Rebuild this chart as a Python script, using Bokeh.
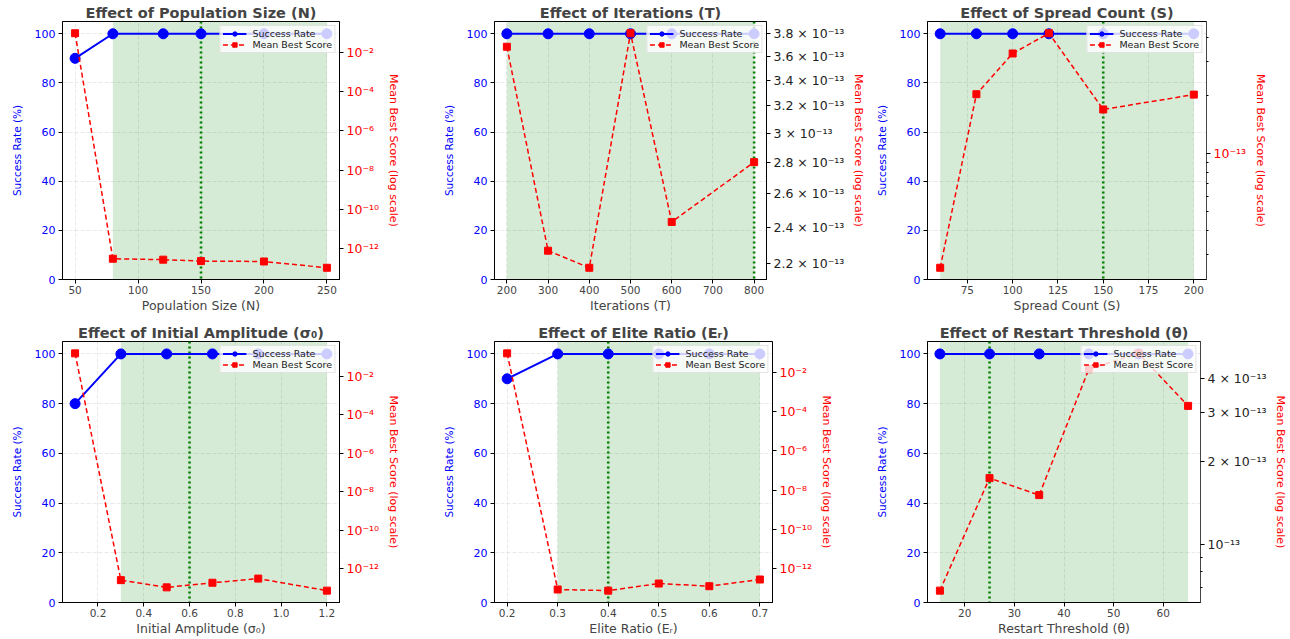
import numpy as np
from bokeh.plotting import figure
from bokeh.layouts import column, row
from bokeh.models import Range1d, LogScale, LogAxis, FixedTicker, BoxAnnotation, Span
from bokeh.embed import file_html
from bokeh.resources import INLINE

# ---------------- data ----------------
titles = ["Effect of Population Size (N)", "Effect of Iterations (T)",
          "Effect of Spread Count (S)", "Effect of Initial Amplitude (σ₀)",
          "Effect of Elite Ratio (Eᵣ)", "Effect of Restart Threshold (θ)"]
xlabels = ["Population Size (N)", "Iterations (T)", "Spread Count (S)",
           "Initial Amplitude (σ₀)", "Elite Ratio (Eᵣ)", "Restart Threshold (θ)"]

pop_x = [50, 80, 120, 150, 200, 250]
pop_sr = [90, 100, 100, 100, 100, 100]
pop_score = [1.0e-1, 2.9e-13, 2.6e-13, 2.2e-13, 2.1e-13, 1.0e-13]

iter_x = [200, 300, 400, 500, 600, 800]
iter_sr = [100, 100, 100, 100, 100, 100]
iter_score = [3.68e-13, 2.27e-13, 2.18e-13, 3.80e-13, 2.43e-13, 2.80e-13]

spread_x = [60, 80, 100, 120, 150, 200]
spread_sr = [100, 100, 100, 100, 100, 100]
spread_score = [2.56e-14, 2.04e-13, 3.32e-13, 4.23e-13, 1.70e-13, 2.03e-13]

amp_x = [0.1, 0.3, 0.5, 0.7, 0.9, 1.2]
amp_sr = [80, 100, 100, 100, 100, 100]
amp_score = [1.6e-1, 2.5e-13, 1.05e-13, 1.83e-13, 3.0e-13, 7.1e-14]

elite_x = [0.2, 0.3, 0.4, 0.5, 0.6, 0.7]
elite_sr = [90, 100, 100, 100, 100, 100]
elite_score = [9.1e-2, 8.7e-14, 7.6e-14, 1.75e-13, 1.28e-13, 2.8e-13]

restart_x = [15, 25, 35, 45, 55, 65]
restart_sr = [100, 100, 100, 100, 100, 100]
restart_score = [6.8e-14, 1.74e-13, 1.51e-13, 4.32e-13, 4.93e-13, 3.18e-13]

# robust region (shaded) and chosen value (dotted line)
shade_lo = [80, 200, 60, 0.3, 0.3, 15]
shade_hi = [250, 800, 200, 1.2, 0.7, 65]
chosen = [150, 800, 150, 0.6, 0.4, 25]

xticks = [[50, 100, 150, 200, 250],
          [200, 300, 400, 500, 600, 700, 800],
          [75, 100, 125, 150, 175, 200],
          [0.2, 0.4, 0.6, 0.8, 1.0, 1.2],
          [0.2, 0.3, 0.4, 0.5, 0.6, 0.7],
          [20, 30, 40, 50, 60]]
xtick_labels = [["50", "100", "150", "200", "250"],
                ["200", "300", "400", "500", "600", "700", "800"],
                ["75", "100", "125", "150", "175", "200"],
                ["0.2", "0.4", "0.6", "0.8", "1.0", "1.2"],
                ["0.2", "0.3", "0.4", "0.5", "0.6", "0.7"],
                ["20", "30", "40", "50", "60"]]
sr_ticks = [0, 20, 40, 60, 80, 100]

decade_ticks = [1e-2, 1e-4, 1e-6, 1e-8, 1e-10, 1e-12]
decade_labels = ["10⁻²", "10⁻⁴", "10⁻⁶", "10⁻⁸", "10⁻¹⁰", "10⁻¹²"]
iter_ticks = [2.2e-13, 2.4e-13, 2.6e-13, 2.8e-13, 3.0e-13, 3.2e-13, 3.4e-13, 3.6e-13, 3.8e-13]
iter_labels = ["2.2 × 10⁻¹³", "2.4 × 10⁻¹³", "2.6 × 10⁻¹³", "2.8 × 10⁻¹³", "3 × 10⁻¹³",
               "3.2 × 10⁻¹³", "3.4 × 10⁻¹³", "3.6 × 10⁻¹³", "3.8 × 10⁻¹³"]
spread_ticks = [1e-13]
spread_labels = ["10⁻¹³"]
spread_minor = [3e-14, 4e-14, 5e-14, 6e-14, 7e-14, 8e-14, 9e-14, 2e-13, 3e-13, 4e-13]
restart_ticks = [1e-13, 2e-13, 3e-13, 4e-13]
restart_labels = ["10⁻¹³", "2 × 10⁻¹³", "3 × 10⁻¹³", "4 × 10⁻¹³"]
restart_minor = [7e-14, 8e-14, 9e-14]

xs = [pop_x, iter_x, spread_x, amp_x, elite_x, restart_x]
srs = [pop_sr, iter_sr, spread_sr, amp_sr, elite_sr, restart_sr]
scores = [pop_score, iter_score, spread_score, amp_score, elite_score, restart_score]
rticks = [decade_ticks, iter_ticks, spread_ticks, decade_ticks, decade_ticks, restart_ticks]
rlabels = [decade_labels, iter_labels, spread_labels, decade_labels, decade_labels, restart_labels]
rminor = [[], [], spread_minor, [], [], restart_minor]
rlabel_color = ["red", "#222222", "red", "red", "red", "#222222"]

# ---------------- layout ----------------
col_w = [430, 438, 422]
col_left = [62, 64, 59]
col_frame = [277, 278, 279]
row_h = [315, 323]
row_top = [21, 26]
row_frame = [261, 263]
FONT = "DejaVu Sans"


def make_panel(i):
    c, r = i % 3, i // 3
    x = xs[i]
    W = col_w[c]
    right_border = W - col_left[c] - col_frame[c]
    xmin, xmax = min(x), max(x)
    xpad = 0.05 * (xmax - xmin)
    ls = np.log10(scores[i])
    lpad = 0.05 * (ls.max() - ls.min())
    slo, shi = 10 ** (ls.min() - lpad), 10 ** (ls.max() + lpad)

    p = figure(width=W, height=row_h[r], output_backend="svg", toolbar_location=None,
               x_range=Range1d(xmin - xpad, xmax + xpad), y_range=Range1d(0, 105),
               min_border_left=col_left[c], min_border_right=right_border,
               min_border_top=row_top[r],
               min_border_bottom=row_h[r] - row_top[r] - row_frame[r],
               title=titles[i])
    p.extra_y_ranges = {"score": Range1d(slo, shi)}
    p.extra_y_scales = {"score": LogScale()}
    p.background_fill_color = "white"
    p.border_fill_color = "white"
    p.outline_line_color = "black"
    p.outline_line_width = 1

    p.title.text_font = FONT
    p.title.text_font_size = "14.5px"
    p.title.text_font_style = "bold"
    p.title.align = "center"
    p.title.standoff = 1

    # shading and chosen value
    p.add_layout(BoxAnnotation(left=shade_lo[i], right=shade_hi[i], fill_color="green",
                               fill_alpha=0.16, line_alpha=0, level="underlay"))
    p.add_layout(Span(location=chosen[i], dimension="height", line_color="green",
                      line_width=2.6, line_dash="2 3", level="underlay"))

    # success rate (left axis)
    p.line(x, srs[i], line_color="blue", line_width=2, legend_label="Success Rate")
    p.scatter(x, srs[i], marker="circle", size=10, fill_color="blue", line_color="blue",
              legend_label="Success Rate")

    # mean best score (right axis, log)
    p.line(x, scores[i], y_range_name="score", line_color="red", line_width=1.5,
           line_dash="5 3", legend_label="Mean Best Score")
    p.scatter(x, scores[i], y_range_name="score", marker="square", size=7,
              fill_color="red", line_color="red", legend_label="Mean Best Score")

    # bottom axis
    xa = p.below[0]
    xa.ticker = FixedTicker(ticks=xticks[i])
    xa.major_label_overrides = {float(t): l for t, l in zip(xticks[i], xtick_labels[i])}
    xa.axis_label = xlabels[i]
    xa.axis_label_text_font = FONT
    xa.axis_label_text_font_size = "12.5px"
    xa.axis_label_text_font_style = "normal"
    xa.axis_label_standoff = 1
    xa.major_label_text_font = FONT
    xa.major_label_text_font_size = "10.5px"
    xa.major_label_standoff = 2
    xa.major_tick_out = 4
    xa.major_tick_in = 0
    xa.minor_tick_line_color = None
    xa.axis_line_color = "black"

    # left axis
    ya = p.left[0]
    ya.ticker = FixedTicker(ticks=sr_ticks)
    ya.axis_label = "Success Rate (%)"
    ya.axis_label_text_color = "blue"
    ya.axis_label_text_font = FONT
    ya.axis_label_text_font_size = "10.5px"
    ya.axis_label_text_font_style = "normal"
    ya.axis_label_standoff = 9
    ya.major_label_text_color = "blue"
    ya.major_label_text_font = FONT
    ya.major_label_text_font_size = "11px"
    ya.major_label_standoff = 3
    ya.major_tick_out = 4
    ya.major_tick_in = 0
    ya.minor_tick_line_color = None

    # right axis
    ra = LogAxis(y_range_name="score")
    ra.ticker = FixedTicker(ticks=rticks[i], minor_ticks=rminor[i])
    ra.major_label_overrides = {t: l for t, l in zip(rticks[i], rlabels[i])}
    ra.axis_label = "Mean Best Score (log scale)"
    ra.axis_label_text_color = "red"
    ra.axis_label_text_font = FONT
    ra.axis_label_text_font_size = "11px"
    ra.axis_label_text_font_style = "normal"
    ra.axis_label_standoff = 5
    ra.major_label_text_color = rlabel_color[i]
    ra.major_label_text_font = FONT
    ra.major_label_text_font_size = "12.5px"
    ra.major_label_standoff = 3
    ra.major_tick_out = 4
    ra.major_tick_in = 0
    ra.minor_tick_out = 2
    ra.minor_tick_in = 0
    ra.axis_line_color = "#444444" if i in (2, 5) else "black"
    p.add_layout(ra, "right")

    # grid
    p.xgrid.ticker = FixedTicker(ticks=xticks[i])
    p.ygrid.ticker = FixedTicker(ticks=sr_ticks)
    for g in (p.xgrid, p.ygrid):
        g.grid_line_color = "#b0b0b0"
        g.grid_line_alpha = 0.35
        g.grid_line_dash = "4 2"
        g.grid_line_width = 0.8

    # legend
    lg = p.legend[0]
    lg.location = "top_right"
    lg.margin = 4
    lg.padding = 2
    lg.spacing = 0
    lg.label_text_font = FONT
    lg.label_text_font_size = "9.5px"
    lg.label_text_color = "#222222"
    lg.label_height = 10
    lg.glyph_height = 11
    lg.glyph_width = 24
    lg.label_standoff = 6
    lg.background_fill_alpha = 0.8
    lg.border_line_color = "#cccccc"
    lg.border_line_width = 1
    return p


panels = [make_panel(i) for i in range(6)]
layout = column(row(*panels[:3]), row(*panels[3:]))
open("out.html", "w").write(file_html(layout, INLINE))
